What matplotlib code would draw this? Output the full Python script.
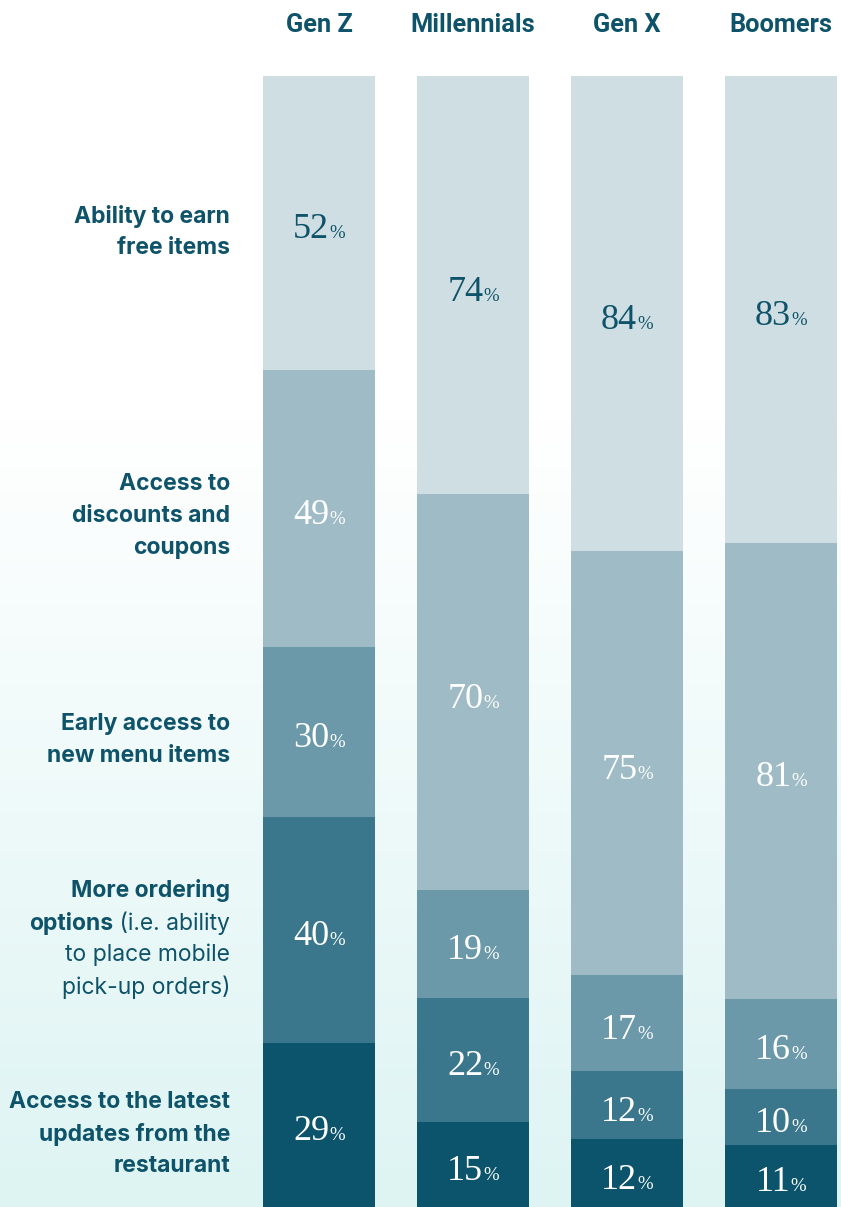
import numpy as np
import matplotlib
matplotlib.use("Agg")
import matplotlib.pyplot as plt
from matplotlib.offsetbox import TextArea, HPacker, AnnotationBbox
from matplotlib.colors import to_rgb

# ---------------- data ----------------
generations = ["Gen Z", "Millennials", "Gen X", "Boomers"]
# stacked from bottom to top
latest_updates = [29, 15, 12, 11]
more_ordering = [40, 22, 12, 10]
early_access = [30, 19, 17, 16]
discounts = [49, 70, 75, 81]
free_items = [52, 74, 84, 83]

series = [latest_updates, more_ordering, early_access, discounts, free_items]
seg_colors = ["#0b546b", "#3b778c", "#6b99aa", "#9fbcc6", "#cfdee3"]
text_colors = ["white", "white", "white", "white", "#0e5369"]

label_color = "#0e5369"
LABEL_FONT = "Inter"
LABEL_SIZE = 16.5

W, H = 841, 1207
fig = plt.figure(figsize=(W / 100, H / 100), dpi=100)

# background gradient
bg = fig.add_axes([0, 0, 1, 1], zorder=-10)
ys = np.arange(H)
t = np.clip((ys - 420) / (H - 420), 0, 1)
top = np.array(to_rgb("#ffffff"))
bot = np.array(to_rgb("#ddf4f3"))
grad = top[None, :] * (1 - t[:, None]) + bot[None, :] * t[:, None]
img = np.repeat(grad[:, None, :], 2, axis=1)
bg.imshow(img, aspect="auto", extent=[0, 1, 1, 0])
bg.set_axis_off()

# main axes
bar_w = 112 / 154
left_px, right_px = 263, 837
ax = fig.add_axes([left_px / W, 0, (right_px - left_px) / W, (H - 76) / H])
ax.patch.set_alpha(0)
x = np.arange(len(generations))
totals = np.sum(np.array(series, dtype=float), axis=0)
bottoms = np.zeros(len(generations))
for vals, col, tc in zip(series, seg_colors, text_colors):
    vals = np.array(vals, dtype=float)
    heights = vals / totals * 200.0
    ax.bar(x, heights, bottom=bottoms, width=bar_w, color=col, linewidth=0)
    for xi, v, h, b in zip(x, vals, heights, bottoms):
        num = TextArea(f"{int(v)}", textprops=dict(color=tc, fontsize=26,
                                                   family="Liberation Serif"))
        pct = TextArea("%", textprops=dict(color=tc, fontsize=13.5,
                                           family="Liberation Serif"))
        pack = HPacker(children=[num, pct], align="baseline", pad=0, sep=0)
        ab = AnnotationBbox(pack, (xi, b + h / 2), xybox=(0, -5),
                            boxcoords="offset points", frameon=False,
                            box_alignment=(0.5, 0.5))
        ax.add_artist(ab)
    bottoms += heights

ax.set_xlim(-0.5 * bar_w, 3 + 0.5 * bar_w)
ax.set_ylim(0, 200)
ax.set_axis_off()

# headers
for xi, g in zip(x, generations):
    ax.annotate(g, (xi, 1), xycoords=("data", "figure fraction"),
                xytext=(0, -25), textcoords="offset pixels",
                ha="center", va="center", fontsize=18.3, fontweight="bold",
                family="Roboto", color=label_color)

# left category labels (line by line, pixel positions)
label_x = 230 / W
lines = [
    ("Ability to earn", 216, "bold"),
    ("free items", 248, "bold"),
    ("Access to", 484, "bold"),
    ("discounts and", 516, "bold"),
    ("coupons", 548, "bold"),
    ("Early access to", 724, "bold"),
    ("new menu items", 756, "bold"),
    ("More ordering", 891, "bold"),
    ("to place mobile", 955, "normal"),
    ("pick-up orders)", 987, "normal"),
    ("Access to the latest", 1102, "bold"),
    ("updates from the", 1134, "bold"),
    ("restaurant", 1166, "bold"),
]
for txt, ypx, wt in lines:
    fig.text(label_x, 1 - ypx / H, txt, ha="right", va="center",
             fontsize=LABEL_SIZE, fontweight=wt, family=LABEL_FONT,
             color=label_color)

# mixed-weight line
pa = TextArea("options", textprops=dict(color=label_color, fontsize=LABEL_SIZE,
                                        fontweight="bold", family=LABEL_FONT))
pb = TextArea(" (i.e. ability", textprops=dict(color=label_color, fontsize=LABEL_SIZE,
                                              fontweight="normal", family=LABEL_FONT))
mixed = HPacker(children=[pa, pb], align="baseline", pad=0, sep=0)
ab = AnnotationBbox(mixed, (label_x, 1 - 923 / H), xycoords="figure fraction",
                    frameon=False, box_alignment=(1.0, 0.5))
fig.add_artist(ab)

fig.savefig("out.png", dpi=100)
